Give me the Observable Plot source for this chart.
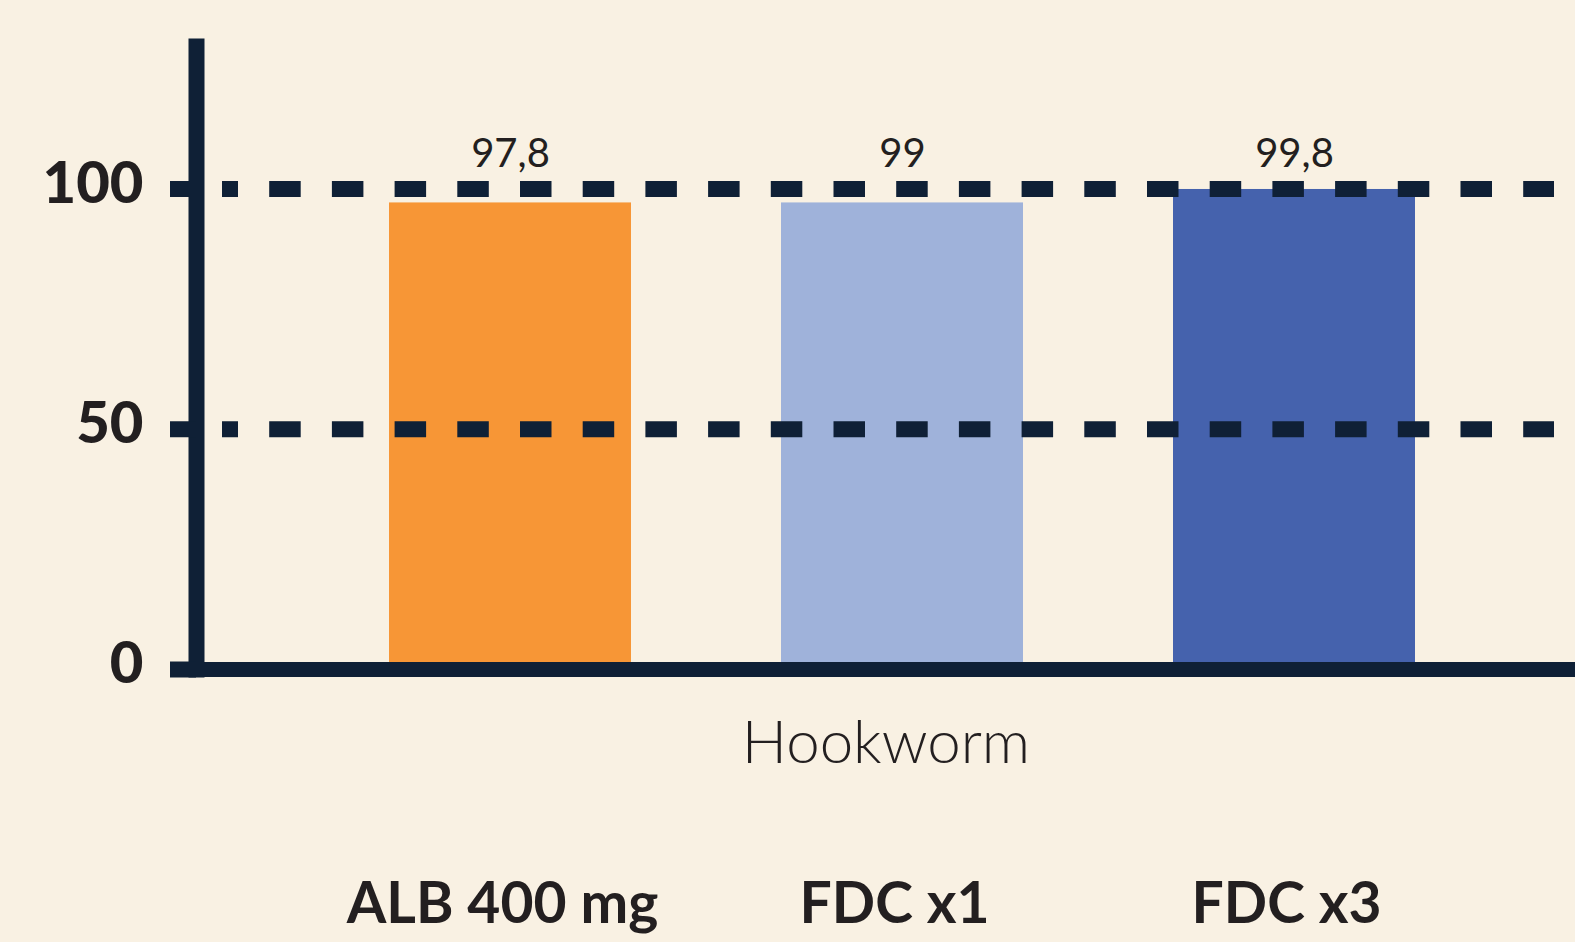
<!DOCTYPE html>
<html>
<head>
<meta charset="utf-8">
<script src="https://cdn.jsdelivr.net/npm/d3@7"></script>
<script src="https://cdn.jsdelivr.net/npm/@observablehq/plot@0.6"></script>
<style>
  html, body { margin: 0; padding: 0; background: #F9F1E3; }
  #chart svg { display: block; overflow: visible; }
</style>
</head>
<body>
<div id="chart"></div>
<script>
// ---- Data ----
const categories = ["ALB 400 mg", "FDC x1", "FDC x3"];
const barValues = [97.1, 97.1, 99.9];          // bar heights as drawn
const valueLabels = ["97,8", "99", "99,8"];    // printed values
const yTicks = [0, 50, 100];
const gridValues = [50, 100];
const groupLabel = "Hookworm";

const data = categories.map((c, i) => ({cat: c, value: barValues[i], label: valueLabels[i]}));

const axisColor = "#0F2036";
const textColor = "#231F20";

const chart = Plot.plot({
  width: 1575,
  height: 942,
  marginTop: 46,
  marginBottom: 273,
  marginLeft: 196,
  marginRight: 0,
  style: {background: "transparent", fontFamily: "Lato, 'Open Sans', sans-serif", color: textColor},
  x: {domain: categories, range: [229, 1575], paddingInner: 0.383, paddingOuter: 0.408, axis: null},
  y: {domain: [0, 100], range: [669, 188.5], axis: null},
  color: {domain: categories, range: ["#F79636", "#9FB2DA", "#4562AD"]},
  marks: [
    Plot.barY(data, {x: "cat", y: "value", fill: "cat"}),
    Plot.frame({anchor: "left", stroke: axisColor, strokeWidth: 16}),
    Plot.ruleY([0], {stroke: axisColor, strokeWidth: 15}),
    Plot.ruleY(gridValues, {
      stroke: axisColor, strokeWidth: 16,
      strokeDasharray: "31.5,31.2", strokeDashoffset: 15.5,
      insetLeft: 26, insetRight: 21
    }),
    // tick marks only
    Plot.axisY(yTicks, {tickSize: 26, stroke: axisColor, strokeWidth: 16, tickFormat: () => "", label: null}),
    // tick labels
    Plot.axisY(yTicks, {tickSize: 0, tickPadding: 53, dy: -5, fontSize: 58, fontWeight: 900, fill: textColor, label: null}),
    // category labels
    Plot.axisX({tickSize: 0, tickPadding: 213, dx: -8, fontSize: 57, fontWeight: 700, fill: textColor, label: null}),
    // value labels
    Plot.text(data, {x: "cat", text: "label", frameAnchor: "top", lineAnchor: "bottom", dy: 120, fontSize: 40, fontWeight: 400, fill: textColor}),
    // group label
    Plot.text([groupLabel], {text: d => d, frameAnchor: "bottom", lineAnchor: "bottom", dy: 93, fontSize: 60, fontWeight: 300, fill: textColor})
  ]
});

document.getElementById("chart").appendChild(chart);
</script>
</body>
</html>
